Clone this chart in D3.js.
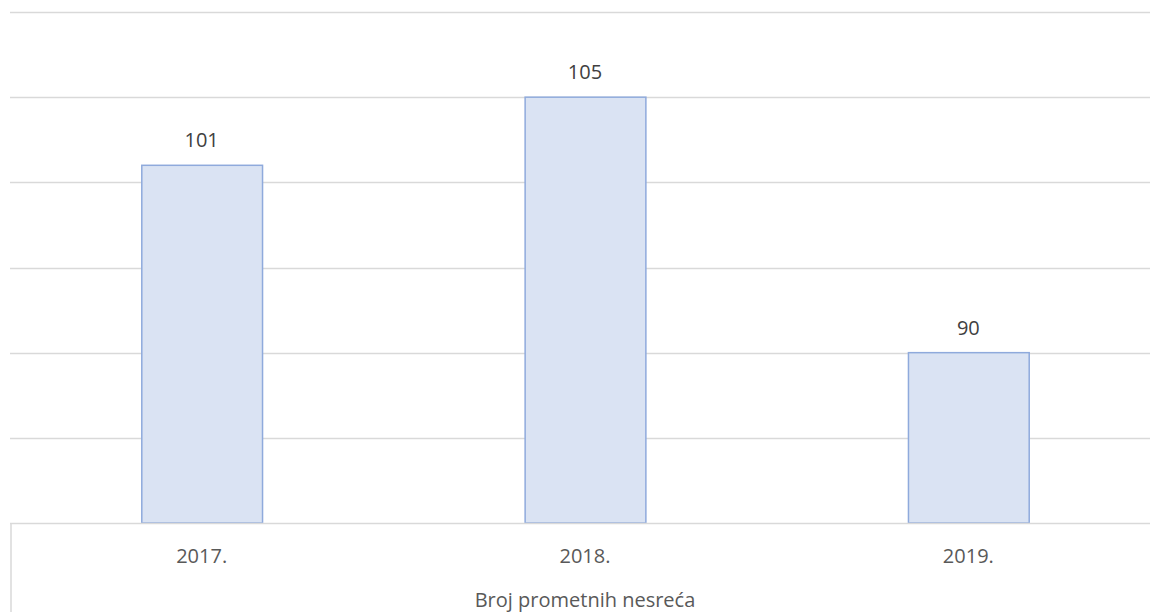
<!DOCTYPE html>
<html>
<head>
<meta charset="utf-8">
<script src="https://cdn.jsdelivr.net/npm/d3@7"></script>
<style>
  html, body { margin: 0; padding: 0; background: #fff; }
  svg { display: block; }
</style>
</head>
<body>
<svg id="chart" width="1150" height="612"></svg>
<script>
// Traffic accidents per year
const years = ["2017.", "2018.", "2019."];
const accidents = [101, 105, 90];
const yTicks = [80, 85, 90, 95, 100, 105, 110];
const seriesTitle = "Broj prometnih nesreća";

const svg = d3.select("#chart");
const plotLeft = 10, plotRight = 1160, plotTop = 12, plotBottom = 523;

const x = d3.scaleBand().domain(years).range([plotLeft, plotRight]).paddingInner(0.685).paddingOuter(0.3425);
const y = d3.scaleLinear().domain([80, 110]).range([plotBottom, plotTop]);

const font = "'Open Sans', sans-serif";
const fontSize = 20;

// horizontal gridlines
svg.append("g").selectAll("line").data(yTicks.slice(1)).join("line")
  .attr("x1", plotLeft).attr("x2", 1150)
  .attr("y1", d => Math.round(y(d)) + 0.5).attr("y2", d => Math.round(y(d)) + 0.5)
  .attr("stroke", "#d9d9d9").attr("stroke-width", 1.5);

// bars
svg.append("g").selectAll("rect").data(accidents).join("rect")
  .attr("x", (d, i) => x(years[i]) + 0.5)
  .attr("y", d => y(d))
  .attr("width", x.bandwidth())
  .attr("height", d => plotBottom - y(d))
  .attr("fill", "#dae3f3")
  .attr("stroke", "#8faadc").attr("stroke-width", 1.5);

// value labels
svg.append("g").selectAll("text").data(accidents).join("text")
  .attr("x", (d, i) => x(years[i]) + x.bandwidth() / 2)
  .attr("y", d => y(d) - 18)
  .attr("text-anchor", "middle")
  .attr("font-family", font).attr("font-size", fontSize)
  .attr("fill", "#404040")
  .text(d => d);

// category axis frame
svg.append("line")
  .attr("x1", plotLeft).attr("x2", 1150).attr("y1", plotBottom + 0.5).attr("y2", plotBottom + 0.5)
  .attr("stroke", "#d9d9d9").attr("stroke-width", 1.5);
svg.append("line")
  .attr("x1", plotLeft + 1).attr("x2", plotLeft + 1).attr("y1", plotBottom).attr("y2", 612)
  .attr("stroke", "#d9d9d9").attr("stroke-width", 1.5);

// category labels
svg.append("g").selectAll("text").data(years).join("text")
  .attr("x", d => x(d) + x.bandwidth() / 2)
  .attr("y", 563)
  .attr("text-anchor", "middle")
  .attr("font-family", font).attr("font-size", fontSize)
  .attr("fill", "#595959")
  .text(d => d);

// series title
svg.append("text")
  .attr("x", x(years[1]) + x.bandwidth() / 2)
  .attr("y", 607)
  .attr("text-anchor", "middle")
  .attr("font-family", font).attr("font-size", fontSize)
  .attr("fill", "#595959")
  .text(seriesTitle);
</script>
</body>
</html>
